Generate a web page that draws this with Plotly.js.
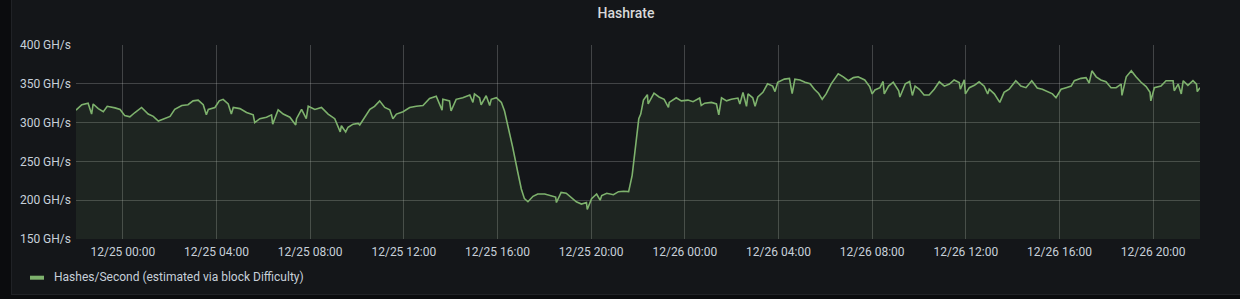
<!DOCTYPE html>
<html>
<head>
<meta charset="utf-8">
<script src="https://cdn.plot.ly/plotly-3.0.1.min.js"></script>
<style>
  html, body { margin: 0; padding: 0; background: #0b0c0e; width: 1240px; height: 299px; overflow: hidden; }
  #wrap { position: absolute; left: 11px; top: 0; width: 1229px; height: 295px; box-sizing: border-box;
          border-left: 1px solid #202226; border-bottom: 1px solid #202226; background: #141619; }
  #chart { width: 1228px; height: 294px; }
</style>
</head>
<body>
<div id="wrap"><div id="chart"></div></div>
<script>
// Series start time; sample times are minutes after this
const startTime = Date.UTC(2020, 11, 24, 22, 0, 0);
const seriesName = 'Hashes/Second (estimated via block Difficulty)';
const minutes = [
  0,15,31,40,44,57,70,80,100,113,125,138,151,168,185,198,211,228,241,253,
  271,287,300,313,326,334,339,356,367,377,390,398,403,420,437,454,458,471,488,501,
  504,518,531,548,563,565,578,590,595,612,629,646,663,677,680,691,697,710,723,727,
  740,753,765,778,791,804,812,821,838,855,872,889,906,923,938,940,957,961,974,991,
  1009,1017,1021,1034,1038,1051,1060,1064,1077,1090,1098,1107,1119,1132,1141,1149,1158,1171,1183,1201,
  1218,1229,1231,1243,1256,1269,1282,1295,1308,1310,1321,1334,1343,1347,1360,1377,1390,1403,1416,1425,
  1434,1442,1447,1454,1464,1466,1481,1494,1507,1518,1520,1538,1551,1568,1581,1598,1602,1611,1628,1641,
  1647,1654,1667,1679,1696,1701,1709,1718,1722,1734,1740,1747,1760,1772,1785,1791,1798,1815,1828,1835,
  1842,1855,1868,1881,1892,1903,1912,1922,1935,1944,1953,1966,1979,1992,2004,2021,2034,2040,2047,2060,
  2068,2071,2082,2094,2108,2111,2125,2136,2143,2150,2161,2173,2186,2199,2212,2225,2238,2250,2263,2266,
  2276,2279,2289,2302,2314,2327,2336,2340,2353,2367,2378,2391,2408,2421,2434,2449,2463,2476,2489,2502,
  2511,2524,2537,2550,2558,2575,2588,2596,2603,2614,2626,2639,2652,2665,2678,2680,2691,2704,2716,2729,
  2742,2752,2754,2763,2780,2793,2811,2814,2824,2832,2837,2849,2862,2871,2873,2880
];
// GH/s
const hashrate = [
  316,323,325,311,324,318,314,321,319,317,309,307.5,313,319.5,311,308,302,305,308,317,
  322,323,328,329,323,310,317,319.5,328,330,324,311,319.5,318,313,310,300,305,307,310,
  298,316.5,311,307,297,305,317,305,321,317,319.5,311,305,288,296,288,294,298,299,297,
  307,317,321,328,319.5,316.5,305,311,314,319.5,321,322,331,334,316,330,328,315,330,332,
  335.5,326,337,332,323,334.6,322,330,332,326,315,296,268,236,214.5,202,198,205,208,208,
  205,204,197,210,209,204,198,195,197,188,202,208,200,206,209,207,211,211.5,211,232,
  270,305,311,329,336,324,338,333,330,319.5,326,332,328,329,327,331.6,322,325,326,324,
  310,332,328,330,331.6,324,339,321,337,332,321,333,339,350,347,340,352,356,357,337.5,
  356,355,352,350,343,337.5,330,337,350,356,363,359,354,358,359,355,346,337,342,345,
  353,337,347,352,341,333,350,353,335,347,343,335.5,335.5,343,352.6,347,349.6,355,351.7,343,
  355,337,345,348,352.6,347,337,343,337,326,339,343,354,347,345,354,344.5,343,340,337,
  332,343,345,347,354,357,358,351,366.7,359,355,352.6,345,345,349.6,335,359,366.7,359,352,
  346.5,339,328,345,347,354,354,341,349.6,337,354,348,354,349.6,340,345
];
const yTicks = [150, 200, 250, 300, 350, 400];
const yUnit = ' GH/s';

function toDateStr(ms) { return new Date(ms).toISOString().slice(0, 19).replace('T', ' '); }
const times = minutes.map(m => toDateStr(startTime + m * 60000));
const xStart = toDateStr(startTime);
const xEnd = toDateStr(startTime + 48 * 3600000);

const W = 1228, H = 294, M = {l: 64, r: 40, t: 45, b: 55};
const plotW = W - M.l - M.r, plotH = H - M.t - M.b;
const px = x => (x - M.l) / plotW;      // chart-div pixel -> paper x
const py = y => (H - M.b - y) / plotH;  // chart-div pixel -> paper y

const green = '#7eb26d';
const textColor = '#c7d0d9';
const font = 'Roboto, "Noto Sans", sans-serif';

const trace = {
  x: times, y: hashrate, type: 'scatter', mode: 'lines', name: seriesName,
  line: {color: green, width: 1.6},
  fill: 'tozeroy', fillcolor: 'rgba(126,178,109,0.1)',
  hoverinfo: 'skip', showlegend: false
};

const layout = {
  width: W, height: H,
  margin: M,
  paper_bgcolor: '#141619', plot_bgcolor: '#141619',
  font: {family: font, size: 12, color: textColor},
  title: {text: 'Hashrate', x: 0.5, xanchor: 'center', xref: 'container',
          y: 1 - 13 / H, yref: 'container', yanchor: 'middle',
          font: {family: font, size: 14, color: '#d8d9da', weight: 500}},
  xaxis: {
    type: 'date', range: [xStart, xEnd],
    tick0: '2020-12-25 00:00:00', dtick: 4 * 3600000, tickformat: '%m/%d %H:%M',
    showgrid: true, gridcolor: 'rgba(200,200,200,0.26)', gridwidth: 1,
    zeroline: false, showline: false, ticks: '', ticklabelstandoff: 4,
    tickfont: {family: font, size: 12, color: textColor}
  },
  yaxis: {
    range: [150, 400], tickvals: yTicks, ticktext: yTicks.map(v => v + yUnit),
    showgrid: true, gridcolor: 'rgba(200,200,200,0.26)', gridwidth: 1,
    zeroline: false, showline: false, ticks: '', ticklabelstandoff: 4,
    tickfont: {family: font, size: 12, color: textColor}
  },
  shapes: [
    {type: 'line', xref: 'paper', yref: 'paper', x0: px(18), x1: px(32), y0: py(277.7), y1: py(277.7),
     line: {color: green, width: 4}}
  ],
  annotations: [
    {text: seriesName, xref: 'paper', yref: 'paper', x: px(40), y: py(277), xanchor: 'left', yanchor: 'middle',
     showarrow: false, font: {family: font, size: 12, color: textColor}}
  ]
};

Plotly.newPlot('chart', [trace], layout, {staticPlot: true, displayModeBar: false});
</script>
</body>
</html>
